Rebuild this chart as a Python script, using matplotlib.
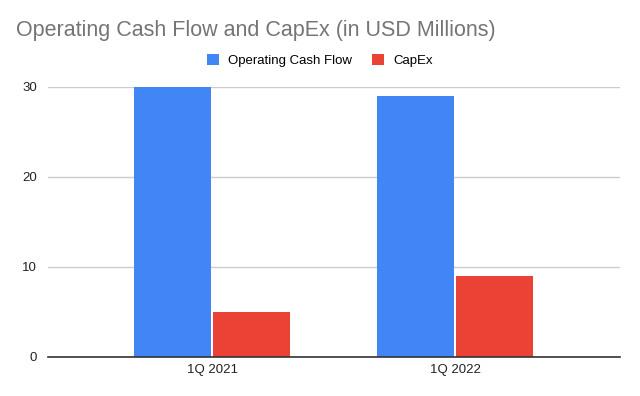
import matplotlib.pyplot as plt
import numpy as np

plt.rcParams['font.family'] = ['Liberation Sans', 'DejaVu Sans']

quarters = ['1Q 2021', '1Q 2022']
operating_cash_flow = [30, 29]
capex = [5, 9]

fig = plt.figure(figsize=(6.4, 3.96), dpi=100)
ax = fig.add_axes([0.075, 0.0992, 0.894, 0.682])

x = np.arange(len(quarters))
w = 0.317
ax.bar(x - w / 2 - 0.003, operating_cash_flow, w, color='#4285f4', label='Operating Cash Flow', zorder=3)
ax.bar(x + w / 2 + 0.003, capex, w, color='#ea4335', label='CapEx', zorder=3)

ax.set_xlim(-0.675, 1.679)
ax.set_ylim(0, 30)
ax.set_yticks([0, 10, 20, 30])
ax.set_xticks(x)
ax.set_xticklabels(quarters)
ax.grid(axis='y', color='#cccccc', linewidth=1, zorder=0)
for s in ['top', 'right', 'left']:
    ax.spines[s].set_visible(False)
ax.spines['bottom'].set_color('#333333')
ax.spines['bottom'].set_linewidth(1.2)
ax.spines['bottom'].set_zorder(4)
ax.tick_params(length=0, labelsize=9.5, labelcolor='#222222')
ax.tick_params(axis='y', pad=8)
ax.tick_params(axis='x', pad=5)

fig.text(0.025, 0.922, 'Operating Cash Flow and CapEx (in USD Millions)',
         fontsize=15.5, color='#757575', va='center', ha='left')
fig.legend(loc='center', bbox_to_anchor=(0.5, 0.846), ncol=2, frameon=False,
           fontsize=9.5, handlelength=0.9, handleheight=0.9, handletextpad=0.7,
           columnspacing=1.5)

fig.savefig('out.png', dpi=100)
